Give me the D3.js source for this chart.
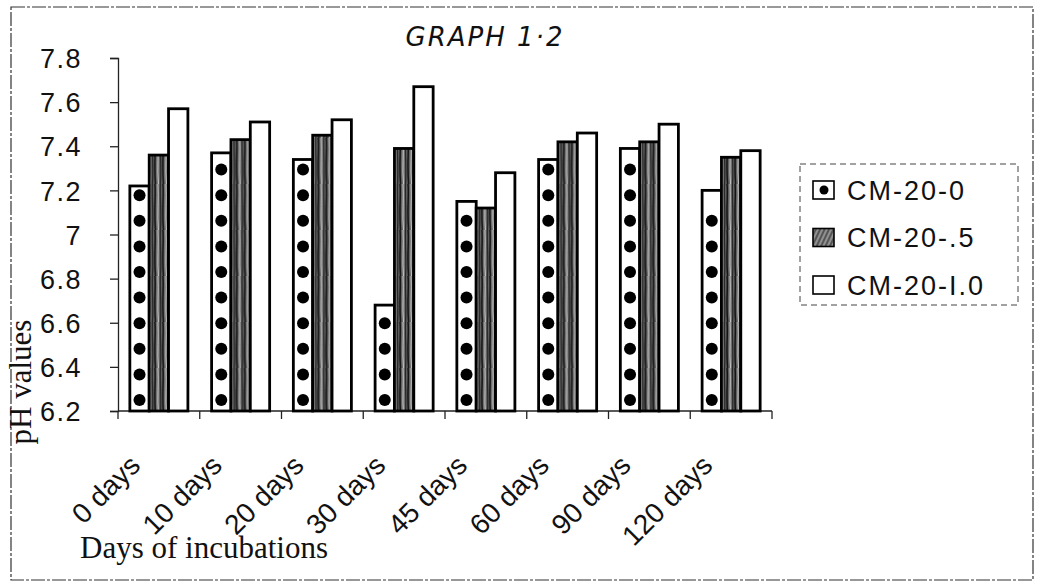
<!DOCTYPE html>
<html>
<head>
<meta charset="utf-8">
<title>Graph 1.2 - pH values</title>
<script src="https://d3js.org/d3.v7.min.js"></script>
<style>
  body { margin: 0; background: #fff; }
  .tick-label { font-family: "Liberation Sans", Arial, sans-serif; font-size: 27px; fill: #111; letter-spacing: 1.5px; }
  .cat-label { font-family: "Liberation Sans", Arial, sans-serif; font-size: 28px; fill: #111; }
  .axis-title { font-family: "Liberation Serif", "Times New Roman", serif; font-size: 31px; fill: #111; }
  .legend-text { font-family: "Liberation Sans", Arial, sans-serif; font-size: 27px; fill: #111; letter-spacing: 2px; }
  .title { font-family: "DejaVu Sans", sans-serif; font-size: 26px; font-style: italic; fill: #111; letter-spacing: 2px; }
</style>
</head>
<body>
<svg id="chart" width="1044" height="585"></svg>
<script>
// data
let categories = ["0 days","10 days","20 days","30 days","45 days","60 days","90 days","120 days"];
let seriesNames = ["CM-20-0","CM-20-.5","CM-20-I.0"];
let cm0  = [7.22,7.37,7.34,6.68,7.15,7.34,7.39,7.20];
let cm05 = [7.36,7.43,7.45,7.39,7.12,7.42,7.42,7.35];
let cm10 = [7.57,7.51,7.52,7.67,7.28,7.46,7.50,7.38];
let yTicks = [6.2,6.4,6.6,6.8,7,7.2,7.4,7.6,7.8];

let allSeries = [cm0, cm05, cm10];
let rows = categories.map((c,i)=>({cat:c, vals: allSeries.map((s,j)=>({key:seriesNames[j], v:s[i]}))}));

let svg = d3.select('#chart');
let plotL = 118, plotR = 772, plotT = 58, plotB = 411;

// outer dashed frame
svg.append('rect').attr('x',11).attr('y',7).attr('width',1022).attr('height',573)
  .attr('fill','none').attr('stroke','#333').attr('stroke-width',1.2).attr('stroke-dasharray','14 2 3 2');

let defs = svg.append('defs');
// streaky hatch used for CM-20-.5
let hp = defs.append('pattern').attr('id','streak').attr('patternUnits','userSpaceOnUse')
  .attr('width',8).attr('height',46);
hp.append('rect').attr('width',8).attr('height',46).attr('fill','#6a6a6a');
hp.append('path').attr('d','M1,0 C2,12 0,24 1.5,46').attr('stroke','#111').attr('stroke-width',1.6).attr('fill','none');
hp.append('path').attr('d','M4,0 C5,15 3,30 4.5,46').attr('stroke','#ddd').attr('stroke-width',0.9).attr('fill','none');
hp.append('path').attr('d','M6.5,0 C6,18 7.5,28 6.5,46').attr('stroke','#222').attr('stroke-width',1.3).attr('fill','none');
// small legend version
let lp = defs.append('pattern').attr('id','streakL').attr('patternUnits','userSpaceOnUse')
  .attr('width',4).attr('height',8).attr('patternTransform','rotate(25)');
lp.append('rect').attr('width',4).attr('height',8).attr('fill','#555');
lp.append('line').attr('x1',1).attr('x2',1).attr('y1',0).attr('y2',8).attr('stroke','#ccc').attr('stroke-width',1);

let x0 = d3.scaleBand().domain(categories).range([plotL,plotR]).paddingInner(0.29).paddingOuter(0.145);
let x1 = d3.scaleBand().domain(seriesNames).range([0,x0.bandwidth()]);
let y = d3.scaleLinear().domain([6.2,7.8]).range([plotB,plotT]);

// y axis
let yAxis = svg.append('g').attr('transform','translate('+plotL+',0)')
  .call(d3.axisLeft(y).tickValues(yTicks).tickSize(8).tickFormat(d=>d3.format('')(d)));
yAxis.select('.domain').attr('stroke','#222').attr('stroke-width',1.3);
yAxis.selectAll('.tick line').attr('stroke','#222').attr('stroke-width',1.3);
yAxis.selectAll('.tick text').attr('class','tick-label').attr('x',-36).attr('dy','0.36em');

// x axis line with boundary ticks
let xb = d3.scaleLinear().domain([0,categories.length]).range([plotL,plotR]);
svg.append('line').attr('x1',plotL).attr('x2',plotR).attr('y1',plotB).attr('y2',plotB)
  .attr('stroke','#222').attr('stroke-width',1.3);
svg.selectAll('.xtick').data(d3.range(categories.length+1)).enter().append('line')
  .attr('x1',d=>xb(d)).attr('x2',d=>xb(d)).attr('y1',plotB).attr('y2',plotB+8)
  .attr('stroke','#222').attr('stroke-width',1.3);

// bars
let group = svg.selectAll('.grp').data(rows).enter().append('g')
  .attr('transform',d=>'translate('+x0(d.cat)+',0)');

let bw = x1.bandwidth();
group.selectAll('rect').data(d=>d.vals).enter().append('rect')
  .attr('x',d=>x1(d.key)).attr('y',d=>y(d.v))
  .attr('width',bw).attr('height',d=>y(6.2)-y(d.v))
  .attr('fill',d=>d.key===seriesNames[1]?'url(#streak)':'#fff')
  .attr('stroke','#000').attr('stroke-width',2.8);

// column of dots inside the CM-20-0 bars
let dotGap = 25.6, dotR = 6;
group.each(function(d){
  let h = y(6.2)-y(d.vals[0].v);
  let n = Math.floor((h-11-dotR)/dotGap);
  d3.select(this).selectAll('circle').data(d3.range(n+1)).enter().append('circle')
    .attr('cx',x1(seriesNames[0])+bw/2)
    .attr('cy',k=>y(6.2)-11-k*dotGap)
    .attr('r',dotR).attr('fill','#000');
});

// category labels, rotated
svg.selectAll('.cat-label').data(categories).enter().append('text')
  .attr('class','cat-label')
  .attr('text-anchor','end')
  .attr('transform',d=>'translate('+(x0(d)+x0.bandwidth()/2-17)+','+(plotB+56)+') rotate(-45)')
  .text(d=>d);

// axis titles
svg.append('text').attr('class','axis-title')
  .attr('transform','translate(31,382) rotate(-90)').attr('text-anchor','middle').text('pH values');
svg.append('text').attr('class','axis-title').attr('x',80).attr('y',558).text('Days of incubations');

// title
svg.append('text').attr('class','title').attr('x',485).attr('y',46).attr('text-anchor','middle').text('GRAPH 1·2');

// legend
let lg = svg.append('g').attr('transform','translate(800,164)');
lg.append('rect').attr('width',218).attr('height',141).attr('fill','#fff')
  .attr('stroke','#444').attr('stroke-width',1).attr('stroke-dasharray','6 4');
let li = lg.selectAll('.li').data(seriesNames).enter().append('g')
  .attr('transform',(d,i)=>'translate(13,'+(26+i*47.5)+')');
li.append('rect').attr('x',0).attr('y',-9).attr('width',21).attr('height',18)
  .attr('fill',(d,i)=>i===1?'url(#streakL)':'#fff').attr('stroke','#000').attr('stroke-width',1.6);
li.filter((d,i)=>i===0).append('circle').attr('cx',11).attr('cy',0).attr('r',4.5).attr('fill','#000');
li.append('text').attr('class','legend-text').attr('x',34).attr('dy','0.36em').text(d=>d);
</script>
</body>
</html>
